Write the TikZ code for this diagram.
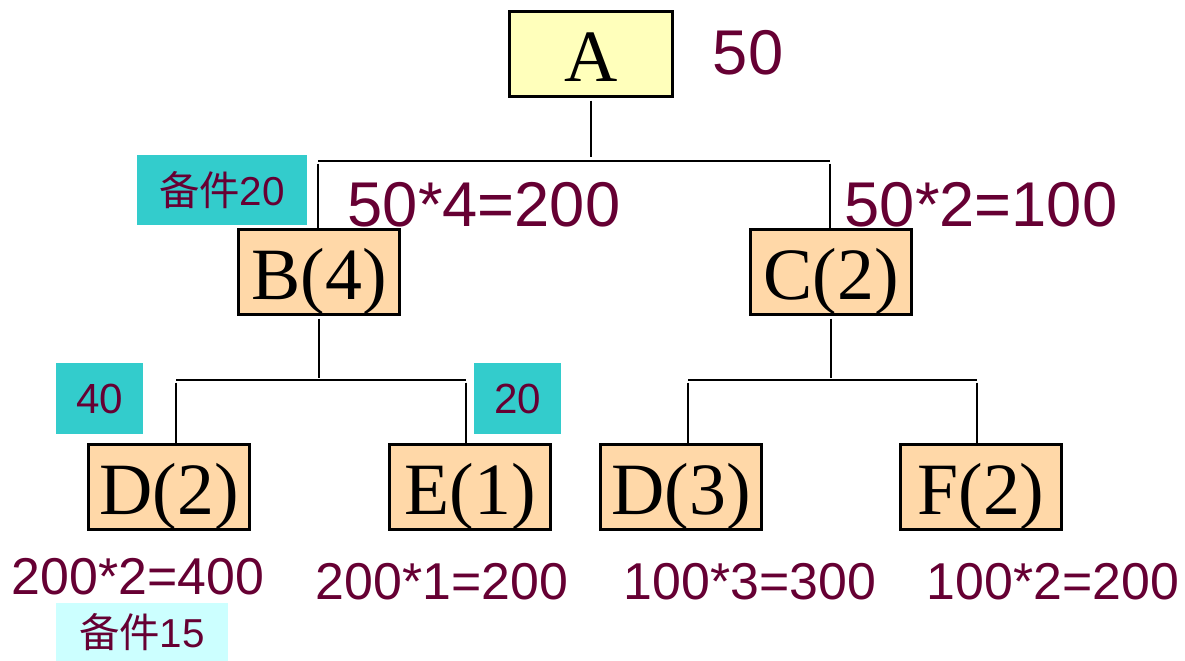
\documentclass[tikz,border=0pt]{standalone}
\usepackage{fontspec}
\setmainfont{Liberation Serif}
\setsansfont{Liberation Sans}
\newfontfamily\cjk{Noto Sans CJK SC}
\definecolor{wine}{HTML}{660033}
\definecolor{lemon}{HTML}{FFFFBB}
\definecolor{peach}{HTML}{FFD8A8}
\definecolor{tealbox}{HTML}{33CCCC}
\definecolor{icebox}{HTML}{CCFFFF}

\begin{document}
\begin{tikzpicture}[x=0.02cm,y=-0.02cm,
      part/.style={draw,line width=1.6pt,fill=peach,minimum width=3.22cm,
        minimum height=1.7cm,inner sep=0pt,text height=31pt,text depth=0pt,
        font=\fontsize{42}{44}\selectfont},
      qty/.style={text=wine,inner sep=0pt,font=\sffamily\fontsize{36}{38}\selectfont},
      need/.style={text=wine,inner sep=0pt,font=\sffamily\fontsize{29.5}{32}\selectfont},
      spare/.style={fill=tealbox,text=wine,inner sep=0pt,minimum height=1.41cm,
        font=\sffamily\fontsize{23}{25}\selectfont},
      link/.style={line width=1.6pt},
      ]
        \useasboundingbox (0,0) rectangle (1185,661);

        % parts
        \node [part,fill=lemon,minimum width=3.26cm] (A) at (591,54) {A};
        \node [part] (B) at (319,272) {B(4)};
        \node [part] (C) at (831,272) {C(2)};
        \node [part] (D2) at (169,487) {D(2)};
        \node [part] (E) at (470,487) {E(1)};
        \node [part] (D3) at (681,487) {D(3)};
        \node [part] (F) at (981,487) {F(2)};

        % quantities
        \node [qty] (nA) at (748,53) {50};
        \node [qty] (nB) at (484,205) {50*4=200};
        \node [qty] (nC) at (981,205) {50*2=100};
        \node [need] (nD2) at (138,577) {200*2=400};
        \node [need] (nE) at (442,582) {200*1=200};
        \node [need] (nD3) at (750,582) {100*3=300};
        \node [need] (nF) at (1053,582) {100*2=200};

        % spares
        \node [spare,minimum width=3.4cm] (sB) at (222,190) {{\cjk 备件}20};
        \node [spare,minimum width=1.74cm,font=\sffamily\fontsize{24}{26}\selectfont]
          (sD2) at (99.5,398.5) {40};
        \node [spare,minimum width=1.74cm,font=\sffamily\fontsize{24}{26}\selectfont]
          (sE) at (517.5,398.5) {20};
        \node [spare,fill=icebox,minimum width=3.44cm,minimum height=1.16cm]
          (sD2b) at (142,632) {{\cjk 备件}15};

        % A -> B, C
        \coordinate (aL) at (318,161);
        \coordinate (aR) at (830,161);
        \draw [link] (aL) -- (aR);
        \draw [link,shorten <=1.5pt,shorten >=2pt] (A.south) -- (A.south |- aL);
        \draw [link,shorten <=1.5pt] (aL) -- (aL |- B.north);
        \draw [link,shorten <=1.5pt] (aR) -- (aR |- C.north);

        % B -> D, E
        \coordinate (bL) at (176,380);
        \coordinate (bR) at (466,380);
        \draw [link] (bL) -- (bR);
        \draw [link,shorten <=1.5pt,shorten >=1pt] (B.south) -- (B.south |- bL);
        \draw [link,shorten <=1.5pt] (bL) -- (bL |- D2.north);
        \draw [link,shorten <=1.5pt] (bR) -- (bR |- E.north);

        % C -> D, F
        \coordinate (cL) at (688,380);
        \coordinate (cR) at (977,380);
        \draw [link] (cL) -- (cR);
        \draw [link,shorten <=1.5pt,shorten >=1pt] (C.south) -- (C.south |- cL);
        \draw [link,shorten <=1.5pt] (cL) -- (cL |- D3.north);
        \draw [link,shorten <=1.5pt] (cR) -- (cR |- F.north);
      \end{tikzpicture}
\end{document}
